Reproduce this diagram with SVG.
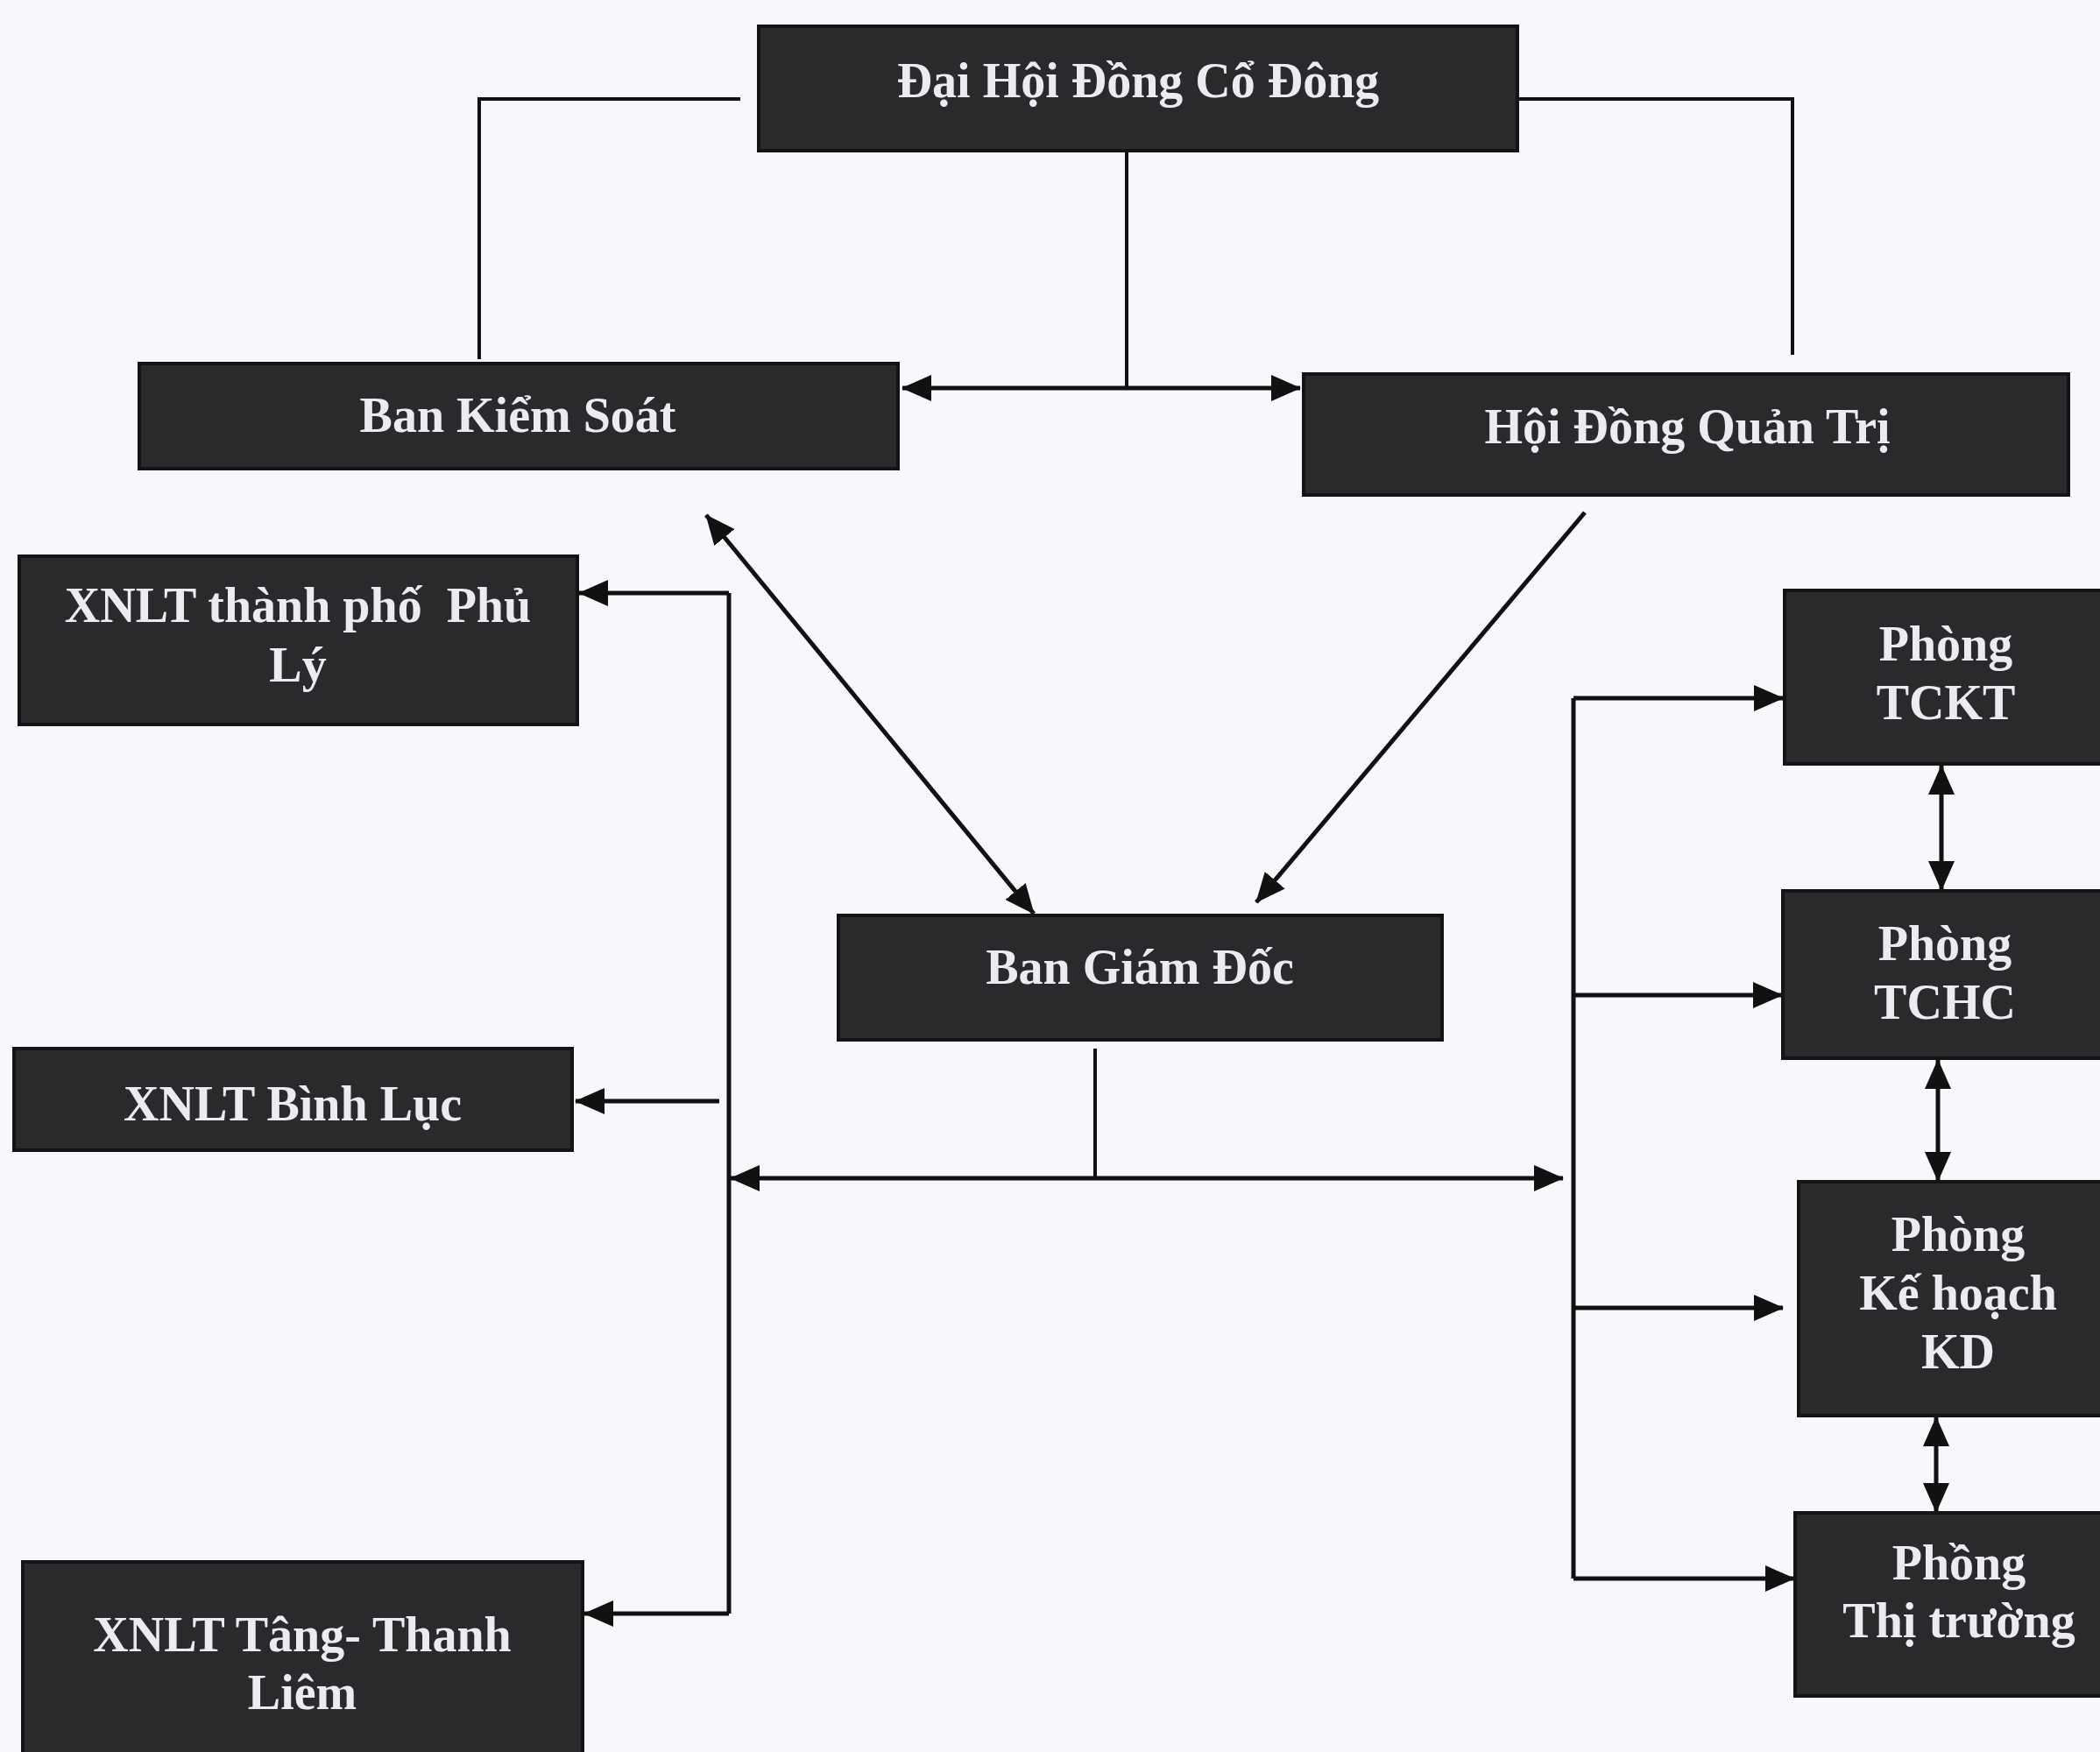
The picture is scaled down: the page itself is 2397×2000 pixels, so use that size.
<svg xmlns="http://www.w3.org/2000/svg" width="2397" height="2000" viewBox="0 0 2397 2000">
<style>
.box{fill:#2a292b;stroke:#141414;stroke-width:4}
.t{font-family:"Liberation Serif","Times New Roman",serif;font-weight:bold;font-size:56px;fill:#ecebef;text-anchor:middle}
.ln{fill:none;stroke:#111;stroke-width:5}
.thin{fill:none;stroke:#111;stroke-width:4}
</style>
<defs>
<marker id="ah" markerUnits="userSpaceOnUse" markerWidth="34" markerHeight="30" refX="33" refY="15" orient="auto-start-reverse" viewBox="0 0 34 30">
<path d="M0,0 L34,15 L0,30 Z" fill="#111"/>
</marker>
</defs>
<rect x="0" y="0" width="2397" height="2000" fill="#f7f8fc"/>
<g id="connectors">
<polyline class="thin" points="845,113 547,113 547,410"/>
<polyline class="thin" points="1732,113 2046,113 2046,405"/>
<line class="thin" x1="1286" y1="172" x2="1286" y2="441"/>
<line class="ln" x1="1030" y1="443" x2="1484" y2="443" marker-start="url(#ah)" marker-end="url(#ah)"/>
<line class="ln" x1="806" y1="588" x2="1180" y2="1043" marker-start="url(#ah)" marker-end="url(#ah)"/>
<line class="ln" x1="1809" y1="585" x2="1434" y2="1030" marker-end="url(#ah)"/>
<line class="thin" x1="1250" y1="1197" x2="1250" y2="1345"/>
<line class="ln" x1="834" y1="1345" x2="1784" y2="1345" marker-start="url(#ah)" marker-end="url(#ah)"/>
<line class="ln" x1="832" y1="677" x2="832" y2="1842"/>
<line class="ln" x1="832" y1="677" x2="661" y2="677" marker-end="url(#ah)"/>
<line class="ln" x1="821" y1="1257" x2="657" y2="1257" marker-end="url(#ah)"/>
<line class="ln" x1="832" y1="1842" x2="667" y2="1842" marker-end="url(#ah)"/>
<line class="ln" x1="1796" y1="797" x2="1796" y2="1802"/>
<line class="ln" x1="1796" y1="797" x2="2035" y2="797" marker-end="url(#ah)"/>
<line class="ln" x1="1796" y1="1136" x2="2034" y2="1136" marker-end="url(#ah)"/>
<line class="ln" x1="1796" y1="1493" x2="2035" y2="1493" marker-end="url(#ah)"/>
<line class="ln" x1="1796" y1="1802" x2="2048" y2="1802" marker-end="url(#ah)"/>
<line class="ln" x1="2216" y1="874" x2="2216" y2="1016" marker-start="url(#ah)" marker-end="url(#ah)"/>
<line class="ln" x1="2212" y1="1210" x2="2212" y2="1348" marker-start="url(#ah)" marker-end="url(#ah)"/>
<line class="ln" x1="2210" y1="1618" x2="2210" y2="1726" marker-start="url(#ah)" marker-end="url(#ah)"/>
</g>
<g id="dhdcd"><rect class="box" x="866" y="30" width="866" height="142"/><text class="t" x="1299" y="111">Đại Hội Đồng Cổ Đông</text></g>
<g id="bks"><rect class="box" x="159" y="415" width="866" height="120"/><text class="t" x="591" y="493">Ban Kiểm Soát</text></g>
<g id="hdqt"><rect class="box" x="1488" y="427" width="873" height="138"/><text class="t" x="1926" y="506">Hội Đồng Quản Trị</text></g>
<g id="xnlt-phuly"><rect class="box" x="22" y="635" width="637" height="192"/><text class="t" x="340" y="710" xml:space="preserve" style="white-space:pre">XNLT thành phố  Phủ</text><text class="t" x="340" y="778">Lý</text></g>
<g id="bgd"><rect class="box" x="957" y="1045" width="689" height="142"/><text class="t" x="1301" y="1123">Ban Giám Đốc</text></g>
<g id="xnlt-binhluc"><rect class="box" x="16" y="1197" width="637" height="116"/><text class="t" x="334" y="1279">XNLT Bình Lục</text></g>
<g id="xnlt-tang"><rect class="box" x="26" y="1783" width="639" height="230"/><text class="t" x="345" y="1885">XNLT Tâng- Thanh</text><text class="t" x="345" y="1951">Liêm</text></g>
<g id="tckt"><rect class="box" x="2037" y="674" width="370" height="198"/><text class="t" x="2221" y="754">Phòng</text><text class="t" x="2221" y="821">TCKT</text></g>
<g id="tchc"><rect class="box" x="2035" y="1017" width="372" height="191"/><text class="t" x="2220" y="1096">Phòng</text><text class="t" x="2220" y="1163">TCHC</text></g>
<g id="khkd"><rect class="box" x="2053" y="1349" width="354" height="267"/><text class="t" x="2235" y="1428">Phòng</text><text class="t" x="2235" y="1495">Kế hoạch</text><text class="t" x="2235" y="1562">KD</text></g>
<g id="thitruong"><rect class="box" x="2049" y="1727" width="358" height="209"/><text class="t" x="2236" y="1803">Phồng</text><text class="t" x="2236" y="1869">Thị trường</text></g>
</svg>
